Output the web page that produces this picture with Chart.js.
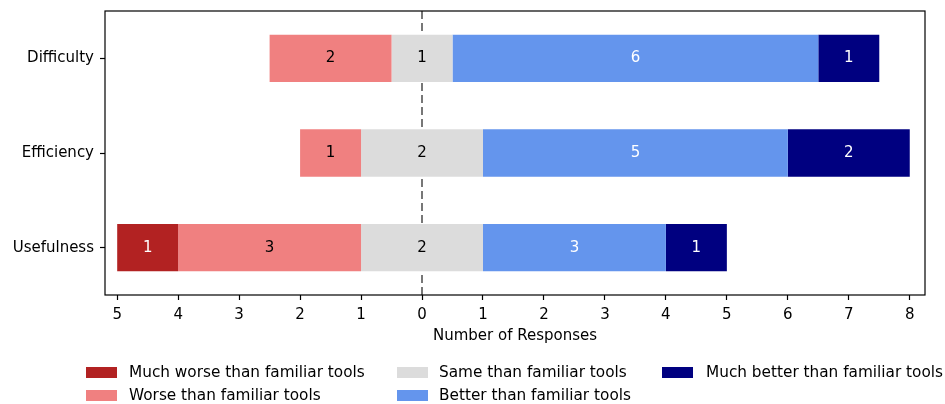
<!DOCTYPE html>
<html>
<head>
<meta charset="utf-8">
<script src="https://cdn.jsdelivr.net/npm/chart.js@4/dist/chart.umd.min.js"></script>
<style>
  html, body { margin: 0; padding: 0; background: #fff; }
  #wrap { position: relative; width: 945px; height: 404px; font-family: "DejaVu Sans", sans-serif; }
  #legend { position: absolute; left: 0; top: 0; width: 945px; height: 404px; pointer-events: none; }
  .li { position: absolute; font-size: 15.3px; color: #000; white-space: nowrap; line-height: 18px; }
  .sw { position: absolute; width: 31px; height: 11px; }
</style>
</head>
<body>
<div id="wrap">
  <canvas id="c" width="945" height="404"></canvas>
  <div id="legend"></div>
</div>
<script>
// ---- data ----
const categories = ["Difficulty", "Efficiency", "Usefulness"];
const seriesNames = [
  "Much worse than familiar tools",
  "Worse than familiar tools",
  "Same than familiar tools",
  "Better than familiar tools",
  "Much better than familiar tools"
];
const muchWorse  = [0, 0, 1];
const worse      = [2, 1, 3];
const same       = [1, 2, 2];
const better     = [6, 5, 3];
const muchBetter = [1, 2, 1];
const tickValues = [-5, -4, -3, -2, -1, 0, 1, 2, 3, 4, 5, 6, 7, 8];

const colors = ["#b22222", "#f08080", "#dcdcdc", "#6495ed", "#000080"];
const labelColors = ["#ffffff", "#000000", "#000000", "#ffffff", "#ffffff"];

// build floating segments (diverging around 0, neutral split in half)
const counts = [muchWorse, worse, same, better, muchBetter];
const segs = counts.map(() => []);
categories.forEach((c, i) => {
  const half = same[i] / 2;
  const wStart = -half - worse[i];
  const mwStart = wStart - muchWorse[i];
  const bEnd = half + better[i];
  const mbEnd = bEnd + muchBetter[i];
  const ranges = [[mwStart, wStart], [wStart, -half], [-half, half], [half, bEnd], [bEnd, mbEnd]];
  ranges.forEach((r, k) => { segs[k].push(counts[k][i] > 0 ? r : null); });
});

const datasets = seriesNames.map((name, k) => ({
  label: name,
  data: segs[k],
  backgroundColor: colors[k],
  borderWidth: 0,
  grouped: false,
  barPercentage: 0.5,
  categoryPercentage: 1.0,
  counts: counts[k],
  labelColor: labelColors[k]
}));

const FONT = "'DejaVu Sans', sans-serif";

const segLabels = {
  id: 'segLabels',
  afterDatasetsDraw(chart) {
    const ctx = chart.ctx;
    ctx.save();
    ctx.font = "15px " + FONT;
    ctx.textAlign = 'center';
    ctx.textBaseline = 'middle';
    chart.data.datasets.forEach((ds, di) => {
      const meta = chart.getDatasetMeta(di);
      meta.data.forEach((el, i) => {
        const v = ds.counts[i];
        if (!v || !ds.data[i]) return;
        const x = (el.x + el.base) / 2;
        ctx.fillStyle = ds.labelColor;
        ctx.fillText(String(v), x, el.y);
      });
    });
    ctx.restore();
  }
};

const zeroLine = {
  id: 'zeroLine',
  beforeDatasetsDraw(chart) {
    const {ctx, chartArea} = chart;
    const x = Math.round(chart.scales.x.getPixelForValue(0));
    ctx.save();
    ctx.strokeStyle = '#777777';
    ctx.lineWidth = 2;
    ctx.setLineDash([8, 4]);
    ctx.beginPath();
    ctx.moveTo(x, chartArea.top);
    ctx.lineTo(x, chartArea.bottom);
    ctx.stroke();
    ctx.restore();
  }
};

const frame = {
  id: 'frame',
  afterDraw(chart) {
    const {ctx, chartArea} = chart;
    ctx.save();
    ctx.strokeStyle = '#000';
    ctx.lineWidth = 1.2;
    ctx.strokeRect(chartArea.left, chartArea.top, chartArea.right - chartArea.left, chartArea.bottom - chartArea.top);
    ctx.restore();
  }
};

new Chart(document.getElementById('c'), {
  type: 'bar',
  data: { labels: categories, datasets },
  plugins: [zeroLine, segLabels, frame],
  options: {
    responsive: false,
    animation: false,
    indexAxis: 'y',
    layout: { padding: { left: 0, right: 20, top: 11, bottom: 59 } },
    plugins: { legend: { display: false }, tooltip: { enabled: false } },
    scales: {
      x: {
        type: 'linear',
        min: -5.2,
        max: 8.25,
        afterBuildTicks: (scale) => { scale.ticks = tickValues.map(v => ({ value: v })); },
        afterFit: (scale) => { scale.height = 50; scale.paddingLeft = 0; scale.paddingRight = 0; },
        grid: { display: true, drawOnChartArea: false, drawTicks: true, tickLength: 5, tickWidth: 1.2, color: '#000', tickColor: '#000' },
        border: { display: false },
        ticks: {
          color: '#000',
          font: { family: FONT, size: 15 },
          padding: 6,
          maxRotation: 0,
          callback: (v) => String(Math.abs(v))
        },
        title: {
          display: true,
          text: 'Number of Responses',
          color: '#000',
          font: { family: FONT, size: 15 },
          padding: { top: 0, bottom: 0 }
        }
      },
      y: {
        afterFit: (scale) => { scale.width = 105; scale.paddingTop = 0; scale.paddingBottom = 0; },
        grid: { display: true, offset: false, drawOnChartArea: false, drawTicks: true, tickLength: 5, tickWidth: 1.2, color: '#000', tickColor: '#000' },
        border: { display: false },
        ticks: { color: '#000', font: { family: FONT, size: 15 }, padding: 6 }
      }
    }
  }
});

// legend (matplotlib-style, 3 columns, column-major)
const legendPos = [
  { sx: 86, tx: 129, y: 372 },
  { sx: 86, tx: 129, y: 395 },
  { sx: 397, tx: 439, y: 372 },
  { sx: 397, tx: 439, y: 395 },
  { sx: 662, tx: 706, y: 372 }
];
const leg = document.getElementById('legend');
seriesNames.forEach((name, k) => {
  const p = legendPos[k];
  const sw = document.createElement('div');
  sw.className = 'sw';
  sw.style.left = p.sx + 'px';
  sw.style.top = (p.y - 5) + 'px';
  sw.style.background = colors[k];
  leg.appendChild(sw);
  const t = document.createElement('div');
  t.className = 'li';
  t.style.left = p.tx + 'px';
  t.style.top = (p.y - 9) + 'px';
  t.textContent = name;
  leg.appendChild(t);
});
</script>
</body>
</html>
